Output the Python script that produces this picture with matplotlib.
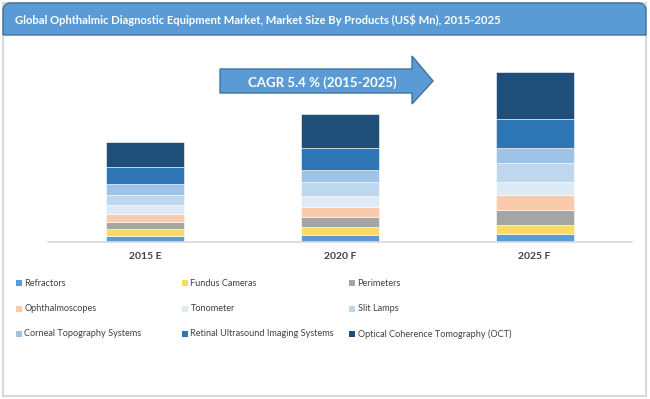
import numpy as np
import matplotlib.pyplot as plt
from matplotlib.patches import Polygon, Rectangle, PathPatch
from matplotlib.path import Path

plt.rcParams["font.family"] = ["Lato", "DejaVu Sans"]

# ── Data (stacked segment sizes) ──
YEARS = ["2015 E", "2020 F", "2025 F"]
SEGMENTS = ["Refractors", "Fundus Cameras", "Perimeters",
            "Ophthalmoscopes", "Tonometer", "Slit Lamps",
            "Corneal Topography Systems", "Retinal Ultrasound Imaging Systems",
            "Optical Coherence Tomography (OCT)"]
REFRACTORS = [6.0, 6.7, 8.0]
FUNDUS = [6.7, 8.3, 9.0]
PERIMETERS = [7.0, 9.7, 15.0]
OPHTHALMOSCOPES = [8.3, 10.7, 15.0]
TONOMETER = [9.0, 11.0, 13.3]
SLIT_LAMPS = [10.0, 13.3, 18.3]
CORNEAL = [11.0, 12.3, 15.0]
RETINAL = [17.3, 22.3, 29.3]
OCT = [25.0, 33.7, 47.3]
VALUES = [REFRACTORS, FUNDUS, PERIMETERS, OPHTHALMOSCOPES, TONOMETER,
          SLIT_LAMPS, CORNEAL, RETINAL, OCT]
COLORS = ["#5B9BD5", "#FFD966", "#A5A5A5", "#F8CBAD", "#DEEBF7",
          "#BDD7EE", "#9DC3E6", "#2E75B6", "#1F4E79"]
CAGR_TEXT = "CAGR 5.4 % (2015-2025)"
TITLE = ("Global Ophthalmic Diagnostic Equipment Market, Market Size By "
         "Products (US$ Mn), 2015-2025")

W, H = 650, 399
fig = plt.figure(figsize=(W / 100, H / 100), dpi=100)

# overlay in pixel coordinates for frame, banner, arrow and legend
ov = fig.add_axes([0, 0, 1, 1])
ov.set_xlim(0, W)
ov.set_ylim(H, 0)
ov.axis("off")

# outer frame
ov.add_patch(Rectangle((3, 3), 643, 393, facecolor="white",
                       edgecolor="#D9D9D9", lw=1.5, zorder=0))

# title banner with rounded top corners
x0, x1, y0, y1, r = 3, 646, 3, 35, 7
t = np.linspace(0, np.pi / 2, 10)
pts = [(x0, y1)]
pts += [(x0 + r - r * np.cos(a), y0 + r - r * np.sin(a)) for a in t]
pts += [(x1 - r + r * np.sin(a), y0 + r - r * np.cos(a)) for a in t]
pts += [(x1, y1), (x0, y1)]
ov.add_patch(PathPatch(Path(pts), facecolor="#5B9BD5", edgecolor="#41719C",
                       lw=1.0, zorder=1))
ov.text(15, 19.5, TITLE, color="white", fontsize=8.15, fontweight="bold",
        ha="left", va="center", zorder=2)

# ── Bars ──
ax = fig.add_axes([48 / W, (H - 242) / H, 584 / W, 182 / H])
x = np.arange(len(YEARS))
bottom = np.zeros(len(YEARS))
for name, vals, col in zip(SEGMENTS, VALUES, COLORS):
    ax.bar(x, vals, bottom=bottom, width=0.4, color=col, edgecolor="white",
           linewidth=0.4, label=name, zorder=2)
    bottom += np.array(vals)
ax.set_xlim(-0.5, 2.5)
ax.set_ylim(0, 182)
ax.set_xticks(x)
ax.set_xticklabels(YEARS, fontsize=7.5, fontweight="bold", color="#404040")
ax.tick_params(axis="x", length=0, pad=7)
ax.set_yticks([])
for s in ["top", "right", "left"]:
    ax.spines[s].set_visible(False)
ax.spines["bottom"].set_color("#D9D9D9")
ax.spines["bottom"].set_linewidth(1.2)
ax.patch.set_alpha(0)

# CAGR arrow
arrow = [(220, 69), (412, 69), (412, 56), (433, 81), (412, 104),
         (412, 93), (220, 93)]
ov.add_patch(Polygon(arrow, closed=True, facecolor="#5B9BD5",
                     edgecolor="#41719C", lw=1.0, zorder=3))
ov.text(322, 83, CAGR_TEXT, color="white", fontsize=9.5, fontweight="bold",
        ha="center", va="center", zorder=4)

# ── Legend (3 equal columns, row-major) ──
col_x = [16, 182, 349]
row_y = [283, 308.5, 334]
for i, (name, col) in enumerate(zip(SEGMENTS, COLORS)):
    cx, cy = col_x[i % 3], row_y[i // 3]
    ov.add_patch(Rectangle((cx, cy - 3), 6, 6, facecolor=col,
                           edgecolor="none", zorder=2))
    ov.text(cx + 8.5, cy, name, fontsize=6.6, color="#404040",
            ha="left", va="center", zorder=2)

fig.savefig("out.png", dpi=100)
